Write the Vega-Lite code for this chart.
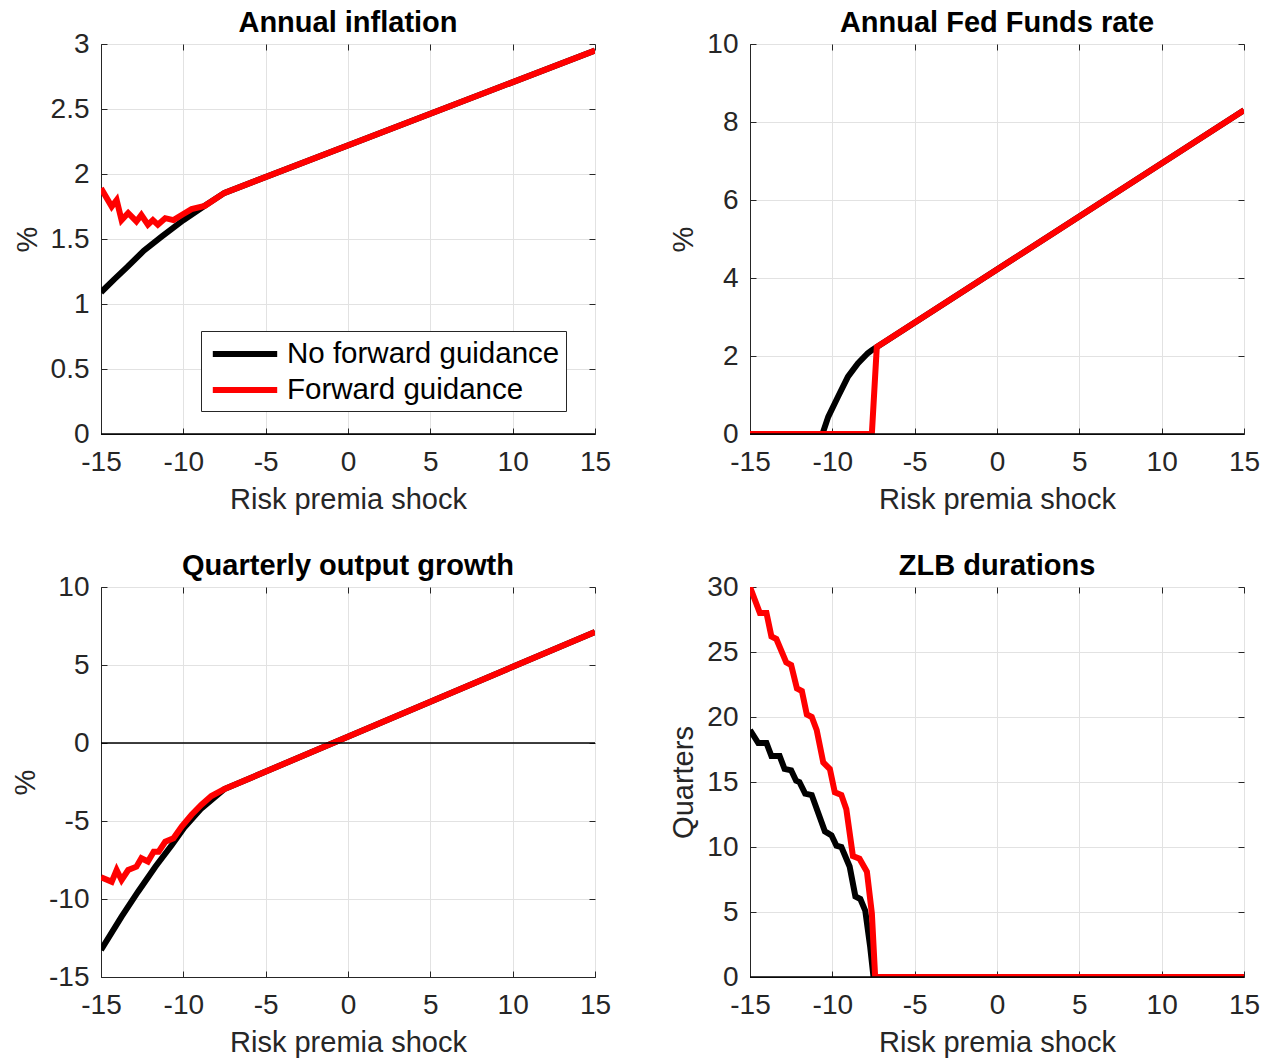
{
  "$schema": "https://vega.github.io/schema/vega-lite/v6.json",
  "background": "white",
  "padding": {"left": 11, "top": 8, "right": 10, "bottom": 6},
  "columns": 2,
  "spacing": {"row": 36, "column": 57},
  "datasets": {
    "infl": [
      {"x": -15, "y": 1.09, "s": "No forward guidance"},
      {"x": -14.2, "y": 1.19, "s": "No forward guidance"},
      {"x": -13.4, "y": 1.285, "s": "No forward guidance"},
      {"x": -12.4, "y": 1.41, "s": "No forward guidance"},
      {"x": -11.3, "y": 1.52, "s": "No forward guidance"},
      {"x": -10, "y": 1.645, "s": "No forward guidance"},
      {"x": -8.7, "y": 1.755, "s": "No forward guidance"},
      {"x": -7.5, "y": 1.855, "s": "No forward guidance"},
      {"x": 15, "y": 2.95, "s": "No forward guidance"},
      {"x": -15, "y": 1.89, "s": "Forward guidance"},
      {"x": -14.35, "y": 1.75, "s": "Forward guidance"},
      {"x": -14.05, "y": 1.8, "s": "Forward guidance"},
      {"x": -13.75, "y": 1.645, "s": "Forward guidance"},
      {"x": -13.35, "y": 1.7, "s": "Forward guidance"},
      {"x": -12.85, "y": 1.635, "s": "Forward guidance"},
      {"x": -12.55, "y": 1.685, "s": "Forward guidance"},
      {"x": -12.15, "y": 1.61, "s": "Forward guidance"},
      {"x": -11.85, "y": 1.645, "s": "Forward guidance"},
      {"x": -11.55, "y": 1.61, "s": "Forward guidance"},
      {"x": -11.1, "y": 1.66, "s": "Forward guidance"},
      {"x": -10.6, "y": 1.645, "s": "Forward guidance"},
      {"x": -10.1, "y": 1.685, "s": "Forward guidance"},
      {"x": -9.5, "y": 1.73, "s": "Forward guidance"},
      {"x": -8.7, "y": 1.755, "s": "Forward guidance"},
      {"x": -7.5, "y": 1.855, "s": "Forward guidance"},
      {"x": 15, "y": 2.95, "s": "Forward guidance"}
    ],
    "ffr": [
      {"x": -15, "y": 0, "s": "No forward guidance"},
      {"x": -10.6, "y": 0, "s": "No forward guidance"},
      {"x": -10.25, "y": 0.44, "s": "No forward guidance"},
      {"x": -9.65, "y": 0.96, "s": "No forward guidance"},
      {"x": -9.05, "y": 1.47, "s": "No forward guidance"},
      {"x": -8.45, "y": 1.81, "s": "No forward guidance"},
      {"x": -7.85, "y": 2.07, "s": "No forward guidance"},
      {"x": -7.6, "y": 2.15, "s": "No forward guidance"},
      {"x": 15, "y": 8.3, "s": "No forward guidance"},
      {"x": -15, "y": 0, "s": "Forward guidance"},
      {"x": -7.6, "y": 0, "s": "Forward guidance"},
      {"x": -7.3, "y": 2.23, "s": "Forward guidance"},
      {"x": 15, "y": 8.3, "s": "Forward guidance"}
    ],
    "gdp": [
      {"x": -15, "y": -13.27, "s": "No forward guidance"},
      {"x": -13.75, "y": -11.13, "s": "No forward guidance"},
      {"x": -12.75, "y": -9.53, "s": "No forward guidance"},
      {"x": -11.7, "y": -7.93, "s": "No forward guidance"},
      {"x": -10.7, "y": -6.54, "s": "No forward guidance"},
      {"x": -9.9, "y": -5.36, "s": "No forward guidance"},
      {"x": -8.9, "y": -4.19, "s": "No forward guidance"},
      {"x": -7.5, "y": -2.95, "s": "No forward guidance"},
      {"x": 15, "y": 7.12, "s": "No forward guidance"},
      {"x": -15, "y": -8.6, "s": "Forward guidance"},
      {"x": -14.35, "y": -8.9, "s": "Forward guidance"},
      {"x": -14.05, "y": -8.14, "s": "Forward guidance"},
      {"x": -13.75, "y": -8.78, "s": "Forward guidance"},
      {"x": -13.35, "y": -8.14, "s": "Forward guidance"},
      {"x": -12.85, "y": -7.93, "s": "Forward guidance"},
      {"x": -12.55, "y": -7.39, "s": "Forward guidance"},
      {"x": -12.15, "y": -7.6, "s": "Forward guidance"},
      {"x": -11.8, "y": -6.97, "s": "Forward guidance"},
      {"x": -11.5, "y": -6.97, "s": "Forward guidance"},
      {"x": -11.1, "y": -6.33, "s": "Forward guidance"},
      {"x": -10.6, "y": -6.11, "s": "Forward guidance"},
      {"x": -10.1, "y": -5.36, "s": "Forward guidance"},
      {"x": -9.5, "y": -4.6, "s": "Forward guidance"},
      {"x": -8.9, "y": -3.95, "s": "Forward guidance"},
      {"x": -8.3, "y": -3.4, "s": "Forward guidance"},
      {"x": -7.5, "y": -2.95, "s": "Forward guidance"},
      {"x": 15, "y": 7.12, "s": "Forward guidance"}
    ],
    "zlb": [
      {"x": -15, "y": 19, "s": "No forward guidance"},
      {"x": -14.5, "y": 18, "s": "No forward guidance"},
      {"x": -14, "y": 18, "s": "No forward guidance"},
      {"x": -13.7, "y": 17, "s": "No forward guidance"},
      {"x": -13.2, "y": 17, "s": "No forward guidance"},
      {"x": -12.9, "y": 16, "s": "No forward guidance"},
      {"x": -12.5, "y": 15.9, "s": "No forward guidance"},
      {"x": -12.2, "y": 15.1, "s": "No forward guidance"},
      {"x": -12, "y": 15, "s": "No forward guidance"},
      {"x": -11.65, "y": 14.1, "s": "No forward guidance"},
      {"x": -11.25, "y": 14, "s": "No forward guidance"},
      {"x": -10.45, "y": 11.2, "s": "No forward guidance"},
      {"x": -10.05, "y": 10.9, "s": "No forward guidance"},
      {"x": -9.75, "y": 10.1, "s": "No forward guidance"},
      {"x": -9.45, "y": 10, "s": "No forward guidance"},
      {"x": -8.95, "y": 8.5, "s": "No forward guidance"},
      {"x": -8.6, "y": 6.2, "s": "No forward guidance"},
      {"x": -8.3, "y": 6, "s": "No forward guidance"},
      {"x": -8, "y": 5.1, "s": "No forward guidance"},
      {"x": -7.7, "y": 2.3, "s": "No forward guidance"},
      {"x": -7.5, "y": 0, "s": "No forward guidance"},
      {"x": 15, "y": 0, "s": "No forward guidance"},
      {"x": -15, "y": 30, "s": "Forward guidance"},
      {"x": -14.4, "y": 28, "s": "Forward guidance"},
      {"x": -14, "y": 28, "s": "Forward guidance"},
      {"x": -13.7, "y": 26.2, "s": "Forward guidance"},
      {"x": -13.4, "y": 26, "s": "Forward guidance"},
      {"x": -12.8, "y": 24.2, "s": "Forward guidance"},
      {"x": -12.5, "y": 24, "s": "Forward guidance"},
      {"x": -12.15, "y": 22.2, "s": "Forward guidance"},
      {"x": -11.85, "y": 22, "s": "Forward guidance"},
      {"x": -11.55, "y": 20.2, "s": "Forward guidance"},
      {"x": -11.25, "y": 20, "s": "Forward guidance"},
      {"x": -10.95, "y": 19, "s": "Forward guidance"},
      {"x": -10.55, "y": 16.5, "s": "Forward guidance"},
      {"x": -10.15, "y": 16, "s": "Forward guidance"},
      {"x": -9.85, "y": 14.2, "s": "Forward guidance"},
      {"x": -9.45, "y": 14, "s": "Forward guidance"},
      {"x": -9.15, "y": 12.9, "s": "Forward guidance"},
      {"x": -8.75, "y": 9.3, "s": "Forward guidance"},
      {"x": -8.35, "y": 9.1, "s": "Forward guidance"},
      {"x": -7.9, "y": 8.1, "s": "Forward guidance"},
      {"x": -7.6, "y": 4.9, "s": "Forward guidance"},
      {"x": -7.4, "y": 0, "s": "Forward guidance"},
      {"x": 15, "y": 0, "s": "Forward guidance"}
    ]
  },
  "concat": [
    {
      "title": "Annual inflation",
      "width": 494,
      "height": 390,
      "data": {"name": "infl"},
      "layer": [
        {
          "transform": [{"filter": "datum.s == 'No forward guidance'"}],
          "mark": {"type": "line", "strokeWidth": 6, "clip": true},
          "encoding": {
            "x": {"field": "x", "type": "quantitative", "scale": {"domain": [-15, 15], "nice": false},
                  "axis": {"values": [-15, -10, -5, 0, 5, 10, 15], "title": "Risk premia shock", "grid": true, "labelExpr": "replace(datum.label, '\u2212', '-')"}},
            "y": {"field": "y", "type": "quantitative", "scale": {"domain": [0, 3], "nice": false},
                  "axis": {"values": [0, 0.5, 1, 1.5, 2, 2.5, 3], "format": "~g", "title": "%", "grid": true}},
            "color": {"field": "s", "type": "nominal",
                      "scale": {"domain": ["No forward guidance", "Forward guidance"], "range": ["#000000", "#ff0000"]},
                      "legend": {"orient": "none", "legendX": 100, "legendY": 287, "title": null,
                                 "symbolType": "M-2.3,0H2.3", "symbolStrokeWidth": 6, "symbolSize": 784, "symbolOffset": 21,
                                 "labelFontSize": 29.5, "labelColor": "#000000", "labelLimit": 500, "labelOffset": 25,
                                 "strokeColor": "#262626", "fillColor": "white", "padding": 6, "rowPadding": 4}}
          }
        },
        {
          "transform": [{"filter": "datum.s == 'Forward guidance'"}],
          "mark": {"type": "line", "strokeWidth": 6, "clip": true},
          "encoding": {
            "x": {"field": "x", "type": "quantitative", "axis": null},
            "y": {"field": "y", "type": "quantitative", "axis": null},
            "color": {"field": "s", "type": "nominal"}
          }
        },
        {
          "data": {"values": [{}]},
          "mark": {"type": "rule", "color": "#000000", "strokeWidth": 1.5},
          "encoding": {"y": {"datum": 0, "type": "quantitative", "axis": null}}
        },
        {
          "mark": {"type": "point", "opacity": 0},
          "encoding": {
            "x": {"field": "x", "type": "quantitative", "axis": {"orient": "top", "values": [-15, -10, -5, 0, 5, 10, 15], "labels": false, "domain": false, "grid": false, "title": null, "minExtent": 0, "maxExtent": 0}},
            "y": {"field": "y", "type": "quantitative", "axis": {"orient": "right", "values": [0, 0.5, 1, 1.5, 2, 2.5, 3], "labels": false, "domain": false, "grid": false, "title": null, "minExtent": 0, "maxExtent": 0}}
          }
        }
      ],
      "resolve": {"axis": {"x": "independent", "y": "independent"}}
    },
    {
      "title": "Annual Fed Funds rate",
      "width": 494,
      "height": 390,
      "data": {"name": "ffr"},
      "layer": [
        {
          "transform": [{"filter": "datum.s == 'No forward guidance'"}],
          "mark": {"type": "line", "color": "#000000", "strokeWidth": 6, "clip": true},
          "encoding": {
            "x": {"field": "x", "type": "quantitative", "scale": {"domain": [-15, 15], "nice": false},
                  "axis": {"values": [-15, -10, -5, 0, 5, 10, 15], "title": "Risk premia shock", "grid": true, "labelExpr": "replace(datum.label, '\u2212', '-')"}},
            "y": {"field": "y", "type": "quantitative", "scale": {"domain": [0, 10], "nice": false},
                  "axis": {"values": [0, 2, 4, 6, 8, 10], "title": "%", "grid": true}}
          }
        },
        {
          "transform": [{"filter": "datum.s == 'Forward guidance'"}],
          "mark": {"type": "line", "color": "#ff0000", "strokeWidth": 6, "clip": true},
          "encoding": {
            "x": {"field": "x", "type": "quantitative", "axis": null},
            "y": {"field": "y", "type": "quantitative", "axis": null}
          }
        },
        {
          "data": {"values": [{}]},
          "mark": {"type": "rule", "color": "#000000", "strokeWidth": 1.5},
          "encoding": {"y": {"datum": 0, "type": "quantitative", "axis": null}}
        },
        {
          "mark": {"type": "point", "opacity": 0},
          "encoding": {
            "x": {"field": "x", "type": "quantitative", "axis": {"orient": "top", "values": [-15, -10, -5, 0, 5, 10, 15], "labels": false, "domain": false, "grid": false, "title": null, "minExtent": 0, "maxExtent": 0}},
            "y": {"field": "y", "type": "quantitative", "axis": {"orient": "right", "values": [0, 2, 4, 6, 8, 10], "labels": false, "domain": false, "grid": false, "title": null, "minExtent": 0, "maxExtent": 0}}
          }
        }
      ],
      "resolve": {"axis": {"x": "independent", "y": "independent"}}
    },
    {
      "title": "Quarterly output growth",
      "width": 494,
      "height": 390,
      "data": {"name": "gdp"},
      "layer": [
        {
          "transform": [{"filter": "datum.s == 'No forward guidance'"}],
          "mark": {"type": "line", "color": "#000000", "strokeWidth": 6, "clip": true},
          "encoding": {
            "x": {"field": "x", "type": "quantitative", "scale": {"domain": [-15, 15], "nice": false},
                  "axis": {"values": [-15, -10, -5, 0, 5, 10, 15], "title": "Risk premia shock", "grid": true, "labelExpr": "replace(datum.label, '\u2212', '-')"}},
            "y": {"field": "y", "type": "quantitative", "scale": {"domain": [-15, 10], "nice": false},
                  "axis": {"values": [-15, -10, -5, 0, 5, 10], "title": "%", "grid": true, "labelExpr": "replace(datum.label, '\u2212', '-')"}}
          }
        },
        {
          "transform": [{"filter": "datum.s == 'Forward guidance'"}],
          "mark": {"type": "line", "color": "#ff0000", "strokeWidth": 6, "clip": true},
          "encoding": {
            "x": {"field": "x", "type": "quantitative", "axis": null},
            "y": {"field": "y", "type": "quantitative", "axis": null}
          }
        },
        {
          "data": {"values": [{}]},
          "mark": {"type": "rule", "color": "#000000", "strokeWidth": 1.5},
          "encoding": {"y": {"datum": 0, "type": "quantitative", "axis": null}}
        },
        {
          "mark": {"type": "point", "opacity": 0},
          "encoding": {
            "x": {"field": "x", "type": "quantitative", "axis": {"orient": "top", "values": [-15, -10, -5, 0, 5, 10, 15], "labels": false, "domain": false, "grid": false, "title": null, "minExtent": 0, "maxExtent": 0}},
            "y": {"field": "y", "type": "quantitative", "axis": {"orient": "right", "values": [-15, -10, -5, 0, 5, 10], "labels": false, "domain": false, "grid": false, "title": null, "minExtent": 0, "maxExtent": 0}}
          }
        }
      ],
      "resolve": {"axis": {"x": "independent", "y": "independent"}}
    },
    {
      "title": "ZLB durations",
      "width": 494,
      "height": 390,
      "data": {"name": "zlb"},
      "layer": [
        {
          "transform": [{"filter": "datum.s == 'No forward guidance'"}],
          "mark": {"type": "line", "color": "#000000", "strokeWidth": 6, "clip": true},
          "encoding": {
            "x": {"field": "x", "type": "quantitative", "scale": {"domain": [-15, 15], "nice": false},
                  "axis": {"values": [-15, -10, -5, 0, 5, 10, 15], "title": "Risk premia shock", "grid": true, "labelExpr": "replace(datum.label, '\u2212', '-')"}},
            "y": {"field": "y", "type": "quantitative", "scale": {"domain": [0, 30], "nice": false},
                  "axis": {"values": [0, 5, 10, 15, 20, 25, 30], "title": "Quarters", "grid": true}}
          }
        },
        {
          "transform": [{"filter": "datum.s == 'Forward guidance'"}],
          "mark": {"type": "line", "color": "#ff0000", "strokeWidth": 6, "clip": true},
          "encoding": {
            "x": {"field": "x", "type": "quantitative", "axis": null},
            "y": {"field": "y", "type": "quantitative", "axis": null}
          }
        },
        {
          "data": {"values": [{}]},
          "mark": {"type": "rule", "color": "#000000", "strokeWidth": 1.5},
          "encoding": {"y": {"datum": 0, "type": "quantitative", "axis": null}}
        },
        {
          "mark": {"type": "point", "opacity": 0},
          "encoding": {
            "x": {"field": "x", "type": "quantitative", "axis": {"orient": "top", "values": [-15, -10, -5, 0, 5, 10, 15], "labels": false, "domain": false, "grid": false, "title": null, "minExtent": 0, "maxExtent": 0}},
            "y": {"field": "y", "type": "quantitative", "axis": {"orient": "right", "values": [0, 5, 10, 15, 20, 25, 30], "labels": false, "domain": false, "grid": false, "title": null, "minExtent": 0, "maxExtent": 0}}
          }
        }
      ],
      "resolve": {"axis": {"x": "independent", "y": "independent"}}
    }
  ],
  "config": {
    "font": "Liberation Sans",
    "view": {"stroke": "#262626", "strokeWidth": 1},
    "axis": {
      "labelFont": "Liberation Sans",
      "labelFontSize": 28,
      "labelColor": "#262626",
      "labelFlush": false,
      "labelOverlap": false,
      "titleFont": "Liberation Sans",
      "titleFontSize": 29,
      "titleFontWeight": "normal",
      "titleColor": "#262626",
      "domainColor": "#262626",
      "domainWidth": 1,
      "tickColor": "#262626",
      "tickWidth": 1,
      "tickSize": -6,
      "gridColor": "#e2e2e2",
      "gridWidth": 1
    },
    "axisX": {"labelPadding": 20, "titlePadding": 9},
    "axisY": {"labelPadding": 18, "titlePadding": 8},
    "legend": {"labelFont": "Liberation Sans"},
    "title": {"font": "Liberation Sans", "fontSize": 29, "fontWeight": "bold", "color": "#000000", "offset": -8, "frame": "group"}
  }
}
